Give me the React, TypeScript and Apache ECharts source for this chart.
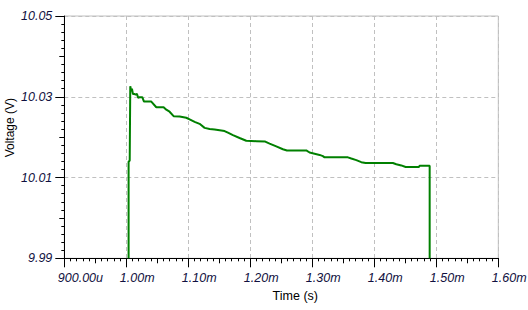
import React, { useEffect, useRef } from "react";
import * as echarts from "echarts";

// time in microseconds, voltage in volts
const timeUs: number[] = [
  1003.7, 1003.7, 1005.5, 1006.4, 1008.0, 1009.1, 1010.7, 1013.4, 1015.0, 1017.1,
  1019.3, 1021.5, 1025.8, 1028.5, 1040.3, 1048.4, 1060.2, 1064.5, 1069.8, 1076.3,
  1086.0, 1096.7, 1102.1, 1110.2, 1118.2, 1126.3, 1134.4, 1142.4, 1150.5, 1158.5,
  1163.9, 1172.0, 1182.7, 1193.5, 1209.6, 1224.1, 1231.1, 1241.9, 1252.6, 1259.1,
  1290.3, 1295.6, 1303.7, 1311.8, 1317.1, 1319.8, 1357.4, 1362.9, 1371.0, 1379.0,
  1386.0, 1430.0, 1435.5, 1443.5, 1450.5, 1471.9, 1473.1, 1489.3, 1489.3,
];
const voltage: number[] = [
  9.99, 10.0139, 10.0142, 10.0326, 10.0314, 10.032, 10.0307, 10.0307, 10.0305, 10.0307,
  10.0297, 10.0299, 10.0299, 10.0288, 10.0288, 10.0274, 10.0274, 10.0268, 10.0263, 10.0252,
  10.0251, 10.0248, 10.0244, 10.0238, 10.0233, 10.0223, 10.022, 10.0219, 10.0217, 10.0215,
  10.0211, 10.0205, 10.0198, 10.0191, 10.019, 10.0189, 10.0184, 10.0177, 10.017, 10.0167,
  10.0167, 10.0162, 10.0159, 10.0156, 10.0153, 10.015, 10.015, 10.0147, 10.0143, 10.0138,
  10.0136, 10.0136, 10.0133, 10.013, 10.0126, 10.0126, 10.0129, 10.0129, 9.99,
];
const xTickLabels: string[] = ["900.00u", "1.00m", "1.10m", "1.20m", "1.30m", "1.40m", "1.50m", "1.60m"];
const yTickLabels: string[] = ["9.99", "10.01", "10.03", "10.05"];

const X_MIN = 900;
const X_MAX = 1600;
const V_BASE = 9.99; // y axis runs in mV above this base
const Y_MAX = 60;

const labelFont = {
  fontFamily: "Liberation Sans, Arial, sans-serif",
  fontStyle: "italic" as const,
  fontSize: 12.5,
  color: "#101040",
};

export default function App() {
  const ref = useRef<HTMLDivElement>(null);
  useEffect(() => {
    if (!ref.current) return;
    const chart = echarts.init(ref.current, undefined, { renderer: "svg" });
    const data = timeUs.map((t, i) => [t, (voltage[i] - V_BASE) * 1000]);
    chart.setOption({
      animation: false,
      backgroundColor: "#ffffff",
      grid: {
        left: 64.3,
        right: 29.7,
        top: 16,
        bottom: 51.7,
        show: true,
        borderColor: "#c0c0c0",
        borderWidth: 1,
        backgroundColor: "transparent",
        containLabel: false,
        outerBoundsMode: "none",
      },
      xAxis: [
        {
          type: "value",
          min: X_MIN,
          max: X_MAX,
          interval: 100,
          name: "Time (s)",
          nameLocation: "middle",
          nameGap: 31,
          nameMoveOverlap: false,
          nameTextStyle: {
            fontFamily: "Liberation Sans, Arial, sans-serif",
            fontSize: 12.5,
            color: "#000",
            padding: [0, 0, 0, 28],
          },
          axisLine: { show: true, onZero: false, lineStyle: { color: "#000", width: 1 } },
          axisTick: { show: true, inside: false, length: 9, lineStyle: { color: "#000" } },
          minorTick: { show: true, splitNumber: 10, length: 3, lineStyle: { color: "#000" } },
          axisLabel: {
            ...labelFont,
            margin: 13,
            align: "left",
            padding: [0, 0, 0, -6.5],
            formatter: (v: number) => xTickLabels[Math.round((v - X_MIN) / 100)] ?? "",
          },
          splitLine: { show: true, lineStyle: { color: "#c0c0c0", type: [4, 3], width: 1 } },
        },
        {
          type: "value",
          min: X_MIN,
          max: X_MAX,
          interval: 50,
          position: "bottom",
          axisLine: { show: false },
          axisTick: { show: true, inside: false, length: 5, lineStyle: { color: "#000" } },
          axisLabel: { show: false },
          splitLine: { show: false },
        },
      ],
      yAxis: [
        {
          type: "value",
          min: 0,
          max: Y_MAX,
          interval: 20,
          name: "Voltage (V)",
          nameLocation: "middle",
          nameGap: 48,
          nameMoveOverlap: false,
          nameTextStyle: {
            fontFamily: "Liberation Sans, Arial, sans-serif",
            fontSize: 12,
            color: "#000",
            padding: [0, 0, 0, 19],
          },
          axisLine: { show: true, onZero: false, lineStyle: { color: "#000", width: 1 } },
          axisTick: { show: true, inside: false, length: 9, lineStyle: { color: "#000" } },
          minorTick: { show: true, splitNumber: 10, length: 3, lineStyle: { color: "#000" } },
          axisLabel: {
            ...labelFont,
            margin: 12,
            formatter: (v: number) => yTickLabels[Math.round(v / 20)] ?? "",
          },
          splitLine: { show: true, lineStyle: { color: "#c0c0c0", type: [4, 3], width: 1 } },
        },
        {
          type: "value",
          min: 0,
          max: Y_MAX,
          interval: 10,
          position: "left",
          axisLine: { show: false },
          axisTick: { show: true, inside: false, length: 5, lineStyle: { color: "#000" } },
          axisLabel: { show: false },
          splitLine: { show: false },
        },
      ],
      series: [
        {
          type: "line",
          xAxisIndex: 0,
          yAxisIndex: 0,
          data,
          showSymbol: false,
          symbol: "none",
          clip: true,
          lineStyle: { color: "#008000", width: 2 },
        },
      ],
    });
    return () => chart.dispose();
  }, []);
  return (
    <div
      ref={ref}
      style={{ position: "fixed", left: 0, top: 0, width: 528, height: 310, background: "#fff" }}
    />
  );
}
